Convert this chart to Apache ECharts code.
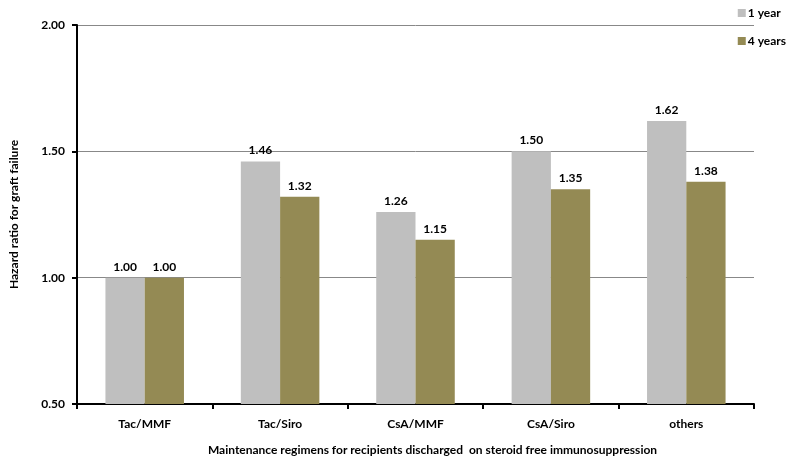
<!DOCTYPE html>
<html><head><meta charset="utf-8">
<script src="https://cdn.jsdelivr.net/npm/echarts@6/dist/echarts.min.js"></script>
<style>html,body{margin:0;padding:0;background:#fff}#c{width:793px;height:461px}</style>
</head><body><div id="c"></div>
<script>
const categories = ["Tac/MMF", "Tac/Siro", "CsA/MMF", "CsA/Siro", "others"];
const oneYear = [1.00, 1.46, 1.26, 1.50, 1.62];
const fourYears = [1.00, 1.32, 1.15, 1.35, 1.38];
const seriesNames = ["1 year", "4 years"];
const yTicks = [0.5, 1.0, 1.5, 2.0];
const FONT = "Lato";
const chart = echarts.init(document.getElementById('c'), null, {renderer: 'canvas'});
const lbl = {show: true, position: 'top', distance: 5, color: '#000', fontFamily: FONT, fontWeight: 'bold', fontSize: 12, formatter: p => p.value.toFixed(2)};
chart.setOption({
  animation: false,
  backgroundColor: '#fff',
  grid: {left: 67, right: 39, top: 25, bottom: 56, containLabel: false},
  legend: {
    orient: 'vertical', right: 2, top: 2, itemWidth: 8, itemHeight: 8, itemGap: 16,
    icon: 'rect',
    textStyle: {fontFamily: FONT, fontWeight: 'bold', fontSize: 12, color: '#000', padding: [0, 0, 0, -3]},
    data: seriesNames
  },
  xAxis: {
    type: 'category', data: categories,
    axisLine: {lineStyle: {color: '#000', width: 2}},
    axisTick: {show: true, alignWithLabel: false, length: 5, lineStyle: {color: '#000', width: 2}},
    axisLabel: {color: '#000', fontFamily: FONT, fontWeight: 'bold', fontSize: 12, margin: 14},
    name: 'Maintenance regimens for recipients discharged  on steroid free immunosuppression',
    nameLocation: 'middle', nameGap: 40,
    nameTextStyle: {color: '#000', fontFamily: FONT, fontWeight: 'bold', fontSize: 12, padding: [0, 0, 0, 34]}
  },
  yAxis: {
    type: 'value', min: yTicks[0], max: yTicks[yTicks.length - 1], interval: 0.5,
    axisLine: {show: true, lineStyle: {color: '#000', width: 2}},
    axisTick: {show: true, length: 5, lineStyle: {color: '#000', width: 2}},
    axisLabel: {color: '#000', fontFamily: FONT, fontWeight: 'bold', fontSize: 12, margin: 12, formatter: v => v.toFixed(2)},
    splitLine: {show: true, lineStyle: {color: '#888', width: 1}},
    name: 'Hazard ratio for graft failure', nameLocation: 'middle', nameGap: 57, nameRotate: 90,
    nameTextStyle: {color: '#000', fontFamily: FONT, fontWeight: 'bold', fontSize: 12}
  },
  series: [
    {name: seriesNames[0], type: 'bar', data: oneYear, itemStyle: {color: '#BFBFBF'}, barGap: '0%', barCategoryGap: '42%', label: lbl},
    {name: seriesNames[1], type: 'bar', data: fourYears, itemStyle: {color: '#948A54'}, barGap: '0%', barCategoryGap: '42%', label: lbl}
  ]
});
</script></body></html>
